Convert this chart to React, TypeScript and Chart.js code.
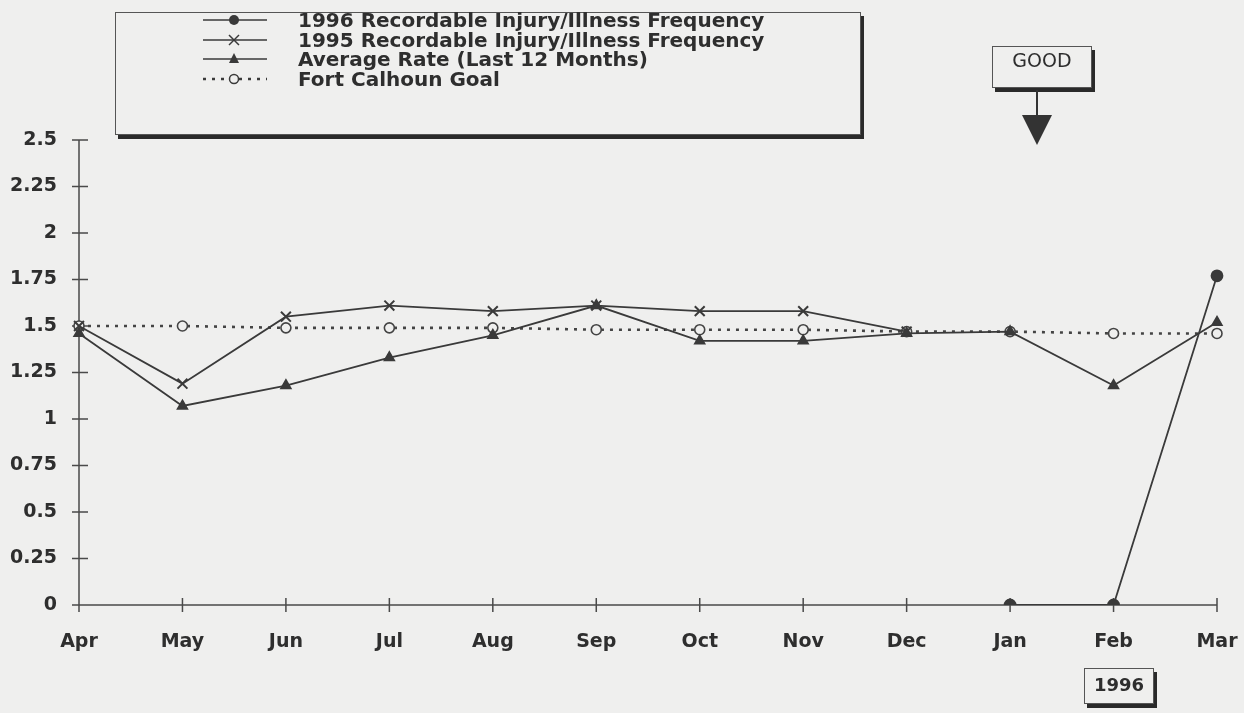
import React, { useEffect, useRef } from "react";
import { Chart, registerables } from "chart.js";

Chart.register(...registerables);

const months = ["Apr", "May", "Jun", "Jul", "Aug", "Sep", "Oct", "Nov", "Dec", "Jan", "Feb", "Mar"];
const series1996 = [null, null, null, null, null, null, null, null, null, 0, 0, 1.77];
const series1995 = [1.5, 1.19, 1.55, 1.61, 1.58, 1.61, 1.58, 1.58, 1.47, null, null, null];
const averageRate = [1.46, 1.07, 1.18, 1.33, 1.45, 1.61, 1.42, 1.42, 1.46, 1.47, 1.18, 1.52];
const goalValues = [1.5, 1.5, 1.49, 1.49, 1.49, 1.48, 1.48, 1.48, 1.47, 1.47, 1.46, 1.46];
const seriesNames = [
  "1996 Recordable Injury/Illness Frequency",
  "1995 Recordable Injury/Illness Frequency",
  "Average Rate (Last 12 Months)",
  "Fort Calhoun Goal",
];
const yTickValues = [0, 0.25, 0.5, 0.75, 1, 1.25, 1.5, 1.75, 2, 2.25, 2.5];
const yTickLabels = ["0", "0.25", "0.5", "0.75", "1", "1.25", "1.5", "1.75", "2", "2.25", "2.5"];
const goodLabel = "GOOD";
const yearLabel = "1996";

const BG = "#efefee";
const INK = "#2e2e2e";
const LINE = "#3a3a3a";

const axisPlugin = {
  id: "scanAxes",
  beforeDatasetsDraw(chart: any) {
    const { ctx, chartArea: a, scales } = chart;
    const x = scales.x;
    const y = scales.y;
    ctx.save();
    ctx.strokeStyle = "#4a4a4a";
    ctx.lineWidth = 1.5;
    ctx.beginPath();
    ctx.moveTo(a.left, a.top);
    ctx.lineTo(a.left, a.bottom);
    ctx.lineTo(a.right, a.bottom);
    y.ticks.forEach((t: any) => {
      const py = y.getPixelForValue(t.value);
      ctx.moveTo(a.left - 7, py);
      ctx.lineTo(a.left + 9, py);
    });
    x.ticks.forEach((_t: any, i: number) => {
      const px = x.getPixelForTick(i);
      ctx.moveTo(px, a.bottom - 7);
      ctx.lineTo(px, a.bottom + 7);
    });
    ctx.stroke();
    ctx.restore();
  },
};

function LegendSymbol({ index }: { index: number }) {
  const dashed = index === 3;
  return (
    <svg width="70" height="20" style={{ display: "block" }}>
      <line
        x1="2"
        y1="10"
        x2="66"
        y2="10"
        stroke={LINE}
        strokeWidth={dashed ? 2.5 : 1.5}
        strokeDasharray={dashed ? "3 6" : undefined}
      />
      {index === 0 && <circle cx="33" cy="10" r="5" fill={LINE} />}
      {index === 1 && (
        <g stroke={LINE} strokeWidth="1.5">
          <line x1="28" y1="5" x2="38" y2="15" />
          <line x1="38" y1="5" x2="28" y2="15" />
        </g>
      )}
      {index === 2 && <polygon points="33,4 38,14 28,14" fill={LINE} />}
      {index === 3 && <circle cx="33" cy="10" r="4.5" fill={BG} stroke={LINE} strokeWidth="1.5" />}
    </svg>
  );
}

export default function App() {
  const canvasRef = useRef<HTMLCanvasElement | null>(null);

  useEffect(() => {
    document.body.style.margin = "0";
    const canvas = canvasRef.current;
    if (!canvas) return;
    const font = { family: "'DejaVu Sans', sans-serif", size: 19, weight: "bold" as const };
    const chart = new Chart(canvas, {
      type: "line",
      data: {
        labels: months,
        datasets: [
          {
            label: seriesNames[0],
            data: series1996,
            borderColor: LINE,
            backgroundColor: LINE,
            borderWidth: 1.8,
            pointStyle: "circle",
            pointRadius: 5.5,
            pointBackgroundColor: LINE,
            pointBorderColor: LINE,
            spanGaps: false,
          },
          {
            label: seriesNames[1],
            data: series1995,
            borderColor: LINE,
            borderWidth: 1.8,
            pointStyle: "crossRot",
            pointRadius: 7,
            pointBorderWidth: 2,
            pointBorderColor: LINE,
          },
          {
            label: seriesNames[2],
            data: averageRate,
            borderColor: LINE,
            borderWidth: 1.8,
            pointStyle: "triangle",
            pointRadius: 5.5,
            pointBackgroundColor: LINE,
            pointBorderColor: LINE,
          },
          {
            label: seriesNames[3],
            data: goalValues,
            borderColor: "#444",
            borderWidth: 2.6,
            borderDash: [3, 6],
            pointStyle: "circle",
            pointRadius: 5,
            pointBorderWidth: 1.6,
            pointBackgroundColor: BG,
            pointBorderColor: "#444",
          },
        ],
      },
      options: {
        animation: false,
        responsive: false,
        devicePixelRatio: 1,
        layout: { padding: { top: 140, right: 27, bottom: 0, left: 0 } },
        plugins: { legend: { display: false }, tooltip: { enabled: false } },
        elements: { line: { tension: 0 } },
        scales: {
          x: {
            offset: false,
            grid: { display: false, drawTicks: false },
            border: { display: false },
            ticks: { color: INK, font, padding: 26, maxRotation: 0, autoSkip: false },
            afterFit: (s: any) => {
              s.height = 108;
              s.paddingRight = 0;
              s.paddingLeft = 0;
            },
          },
          y: {
            min: 0,
            max: 2.5,
            grid: { display: false, drawTicks: false },
            border: { display: false },
            ticks: {
              stepSize: 0.25,
              color: INK,
              font,
              padding: 22,
              callback: (v: any) => {
                const i = yTickValues.findIndex((t) => Math.abs(t - Number(v)) < 1e-6);
                return i >= 0 ? yTickLabels[i] : "";
              },
            },
            afterFit: (s: any) => {
              s.width = 79;
              s.paddingTop = 0;
              s.paddingBottom = 0;
            },
          },
        },
      },
      plugins: [axisPlugin],
    });
    return () => chart.destroy();
  }, []);

  const textStyle: React.CSSProperties = {
    fontFamily: "'DejaVu Sans', sans-serif",
    fontWeight: "bold",
    fontSize: 20,
    color: INK,
    whiteSpace: "nowrap",
  };

  return (
    <div style={{ position: "relative", width: 1244, height: 713, background: BG, overflow: "hidden" }}>
      <canvas ref={canvasRef} width={1244} height={713} style={{ position: "absolute", left: 0, top: 0 }} />
      {/* Legend */}
      <div
        style={{
          position: "absolute",
          left: 115,
          top: 12,
          width: 744,
          height: 121,
          border: "1.5px solid #555",
          boxShadow: "3px 4px 0 #2a2a2a",
          background: BG,
        }}
      >
        {seriesNames.map((name, i) => (
          <div
            key={name}
            style={{ position: "absolute", left: 85, top: -3 + i * 19.7, height: 20, display: "flex", alignItems: "center" }}
          >
            <LegendSymbol index={i} />
            <span style={{ ...textStyle, marginLeft: 27, lineHeight: "20px" }}>{name}</span>
          </div>
        ))}
      </div>
      {/* GOOD box with arrow */}
      <div
        style={{
          position: "absolute",
          left: 992,
          top: 46,
          width: 98,
          height: 40,
          border: "1.5px solid #555",
          boxShadow: "3px 4px 0 #2a2a2a",
          background: BG,
          textAlign: "center",
        }}
      >
        <span style={{ ...textStyle, fontWeight: "normal", fontSize: 19, lineHeight: "26px" }}>{goodLabel}</span>
      </div>
      <svg width="40" height="60" style={{ position: "absolute", left: 1017, top: 90 }}>
        <line x1="20" y1="0" x2="20" y2="26" stroke="#333" strokeWidth="2" />
        <polygon points="5,25 35,25 20,55" fill="#333" />
      </svg>
      {/* 1996 box */}
      <div
        style={{
          position: "absolute",
          left: 1084,
          top: 668,
          width: 68,
          height: 34,
          border: "1.5px solid #555",
          boxShadow: "3px 4px 0 #2a2a2a",
          background: BG,
          textAlign: "center",
        }}
      >
        <span style={{ ...textStyle, fontSize: 18, lineHeight: "32px" }}>{yearLabel}</span>
      </div>
    </div>
  );
}
